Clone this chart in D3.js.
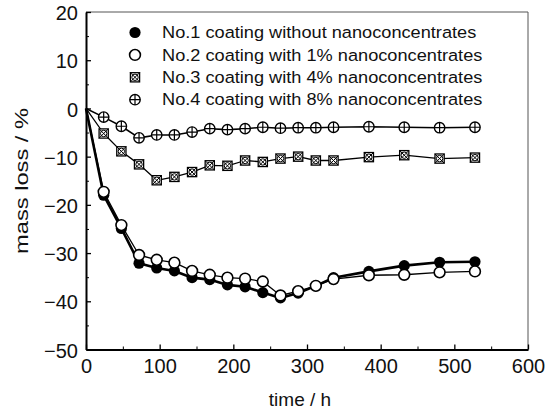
<!DOCTYPE html>
<html>
<head>
<meta charset="utf-8">
<script src="https://cdn.jsdelivr.net/npm/d3@7"></script>
<style>
  body { margin: 0; background: #fff; }
  svg { display: block; font-family: "Liberation Sans", Arial, sans-serif; }
</style>
</head>
<body>
<div id="app"></div>
<script>
// exposure time (h)
const times = [0, 24, 48, 72, 96, 120, 144, 168, 192, 216, 240, 264, 288, 312, 336, 384, 432, 480, 528];

// mass loss (%)
const noNano = [0, -18.0, -24.9, -32.1, -33.1, -33.7, -35.1, -35.5, -36.6, -37.0, -38.2, -39.3, -38.3, -36.8, -35.1, -33.8, -32.6, -31.9, -31.8];
const nano1 = [0, -17.3, -24.2, -30.4, -31.4, -32.0, -33.7, -34.5, -35.1, -35.3, -35.9, -38.8, -37.9, -36.8, -35.4, -34.6, -34.5, -34.0, -33.8];
const nano4 = [0, -5.2, -8.9, -11.6, -14.9, -14.2, -13.2, -11.8, -11.9, -10.8, -11.1, -10.4, -10.0, -10.8, -10.8, -10.1, -9.7, -10.4, -10.2];
const nano8 = [0, -1.8, -3.7, -6.1, -5.5, -5.5, -4.9, -4.2, -4.4, -4.2, -3.9, -4.1, -4.0, -4.0, -3.9, -3.8, -3.9, -4.0, -3.9];

const seriesNames = [
  'No.1 coating without nanoconcentrates',
  'No.2 coating with 1% nanoconcentrates',
  'No.3 coating with 4% nanoconcentrates',
  'No.4 coating with 8% nanoconcentrates',
];

const xTicks = [0, 100, 200, 300, 400, 500, 600];
const xMinorTicks = [50, 150, 250, 350, 450, 550];
const yTicks = [20, 10, 0, -10, -20, -30, -40, -50];
const yMinorTicks = [15, 5, -5, -15, -25, -35, -45];

const width = 558;
const height = 416;
const margin = { top: 12, right: 30, bottom: 66.5, left: 86 };

const svg = d3.select('#app').append('svg')
  .attr('width', width)
  .attr('height', height);

const plotW = width - margin.left - margin.right;
const plotH = height - margin.top - margin.bottom;

const chart = svg.append('g')
  .attr('transform', `translate(${margin.left}, ${margin.top})`);

const xScale = d3.scaleLinear().domain([0, 600]).range([0, plotW]);
const yScale = d3.scaleLinear().domain([-50, 20]).range([plotH, 0]);

// frame on top and right
chart.append('path')
  .attr('d', `M0,0H${plotW}V${plotH}`)
  .attr('fill', 'none')
  .attr('stroke', '#555')
  .attr('stroke-width', 1);

// minor ticks first
chart.append('g')
  .attr('transform', `translate(0, ${plotH})`)
  .call(d3.axisBottom(xScale).tickValues(xMinorTicks).tickSize(-3).tickSizeOuter(0).tickFormat(''))
  .call(g => g.select('.domain').remove());
chart.append('g')
  .call(d3.axisLeft(yScale).tickValues(yMinorTicks).tickSize(-3).tickSizeOuter(0).tickFormat(''))
  .call(g => g.select('.domain').remove());

const xAxisGroup = chart.append('g')
  .attr('transform', `translate(0, ${plotH})`)
  .call(d3.axisBottom(xScale).tickValues(xTicks).tickSize(-5).tickSizeOuter(0).tickPadding(9));
const yAxisGroup = chart.append('g')
  .call(d3.axisLeft(yScale).tickValues(yTicks).tickSize(-5).tickSizeOuter(0).tickPadding(8).tickFormat(d3.format('d')));

[xAxisGroup, yAxisGroup].forEach(g => {
  g.select('.domain').attr('stroke', '#000').attr('stroke-width', 2);
  g.selectAll('.tick line').attr('stroke', '#000').attr('stroke-width', 1.3);
  g.selectAll('.tick text')
    .attr('fill', '#111')
    .style('font-size', '20px')
    .style('font-family', '"Liberation Sans", Arial, sans-serif');
});
yAxisGroup.selectAll('.tick text').attr('dy', '0.38em');

// axis titles
svg.append('text')
  .attr('x', 300)
  .attr('y', 406)
  .attr('text-anchor', 'middle')
  .style('font-size', '19px')
  .attr('fill', '#111')
  .text('time / h');

svg.append('text')
  .attr('transform', 'translate(28, 181) rotate(-90)')
  .attr('text-anchor', 'middle')
  .attr('textLength', 146)
  .attr('lengthAdjust', 'spacingAndGlyphs')
  .style('font-size', '18.5px')
  .attr('fill', '#111')
  .text('mass loss / %');

// marker drawers
function drawMarker(g, kind) {
  if (kind === 0) {
    g.append('circle').attr('r', 5.6).attr('fill', '#000');
  } else if (kind === 1) {
    g.append('circle').attr('r', 5.4).attr('fill', '#fff').attr('stroke', '#000').attr('stroke-width', 1.6);
  } else if (kind === 2) {
    const s = 4.6;
    g.append('rect').attr('x', -s).attr('y', -s).attr('width', 2 * s).attr('height', 2 * s)
      .attr('fill', '#fff').attr('stroke', '#000').attr('stroke-width', 1.3);
    g.append('circle').attr('r', 3.2).attr('fill', 'none').attr('stroke', '#000').attr('stroke-width', 1);
    g.append('path').attr('d', `M${-s},${-s}L${s},${s}M${-s},${s}L${s},${-s}`)
      .attr('stroke', '#000').attr('stroke-width', 1);
  } else {
    const r = 5.2;
    g.append('circle').attr('r', r).attr('fill', '#fff').attr('stroke', '#000').attr('stroke-width', 1.4);
    g.append('path').attr('d', `M${-r},0H${r}M0,${-r}V${r}`)
      .attr('stroke', '#000').attr('stroke-width', 1.2);
  }
}

const series = [noNano, nano1, nano4, nano8];
const lineWidths = [2.6, 1.3, 1.3, 1.6];

const lineFunc = d3.line()
  .x(d => xScale(d.t))
  .y(d => yScale(d.v));

// draw order: 4, 3, 1, 2 (open circles sit over filled ones)
// the t = 0 symbols are hidden behind the axis in the original, so only the lines start there
[3, 2, 0, 1].forEach(k => {
  const pts = times.map((t, i) => ({ t, v: series[k][i] }));
  chart.append('path')
    .attr('d', lineFunc(pts))
    .attr('fill', 'none')
    .attr('stroke', '#000')
    .attr('stroke-width', lineWidths[k])
    .attr('stroke-linejoin', 'round');
  chart.append('g')
    .selectAll('g')
    .data(pts.filter(d => d.t > 0))
    .enter()
    .append('g')
    .attr('transform', d => `translate(${xScale(d.t)}, ${yScale(d.v)})`)
    .each(function () { drawMarker(d3.select(this), k); });
});

// legend
const legend = svg.append('g');
seriesNames.forEach((name, i) => {
  const row = legend.append('g').attr('transform', `translate(135, ${32.5 + i * 22.4})`);
  drawMarker(row.append('g'), i);
  row.append('text')
    .attr('transform', 'translate(27, 5.6) scale(1.07, 1)')
    .style('font-size', '17px')
    .attr('fill', '#111')
    .text(name);
});
</script>
</body>
</html>
